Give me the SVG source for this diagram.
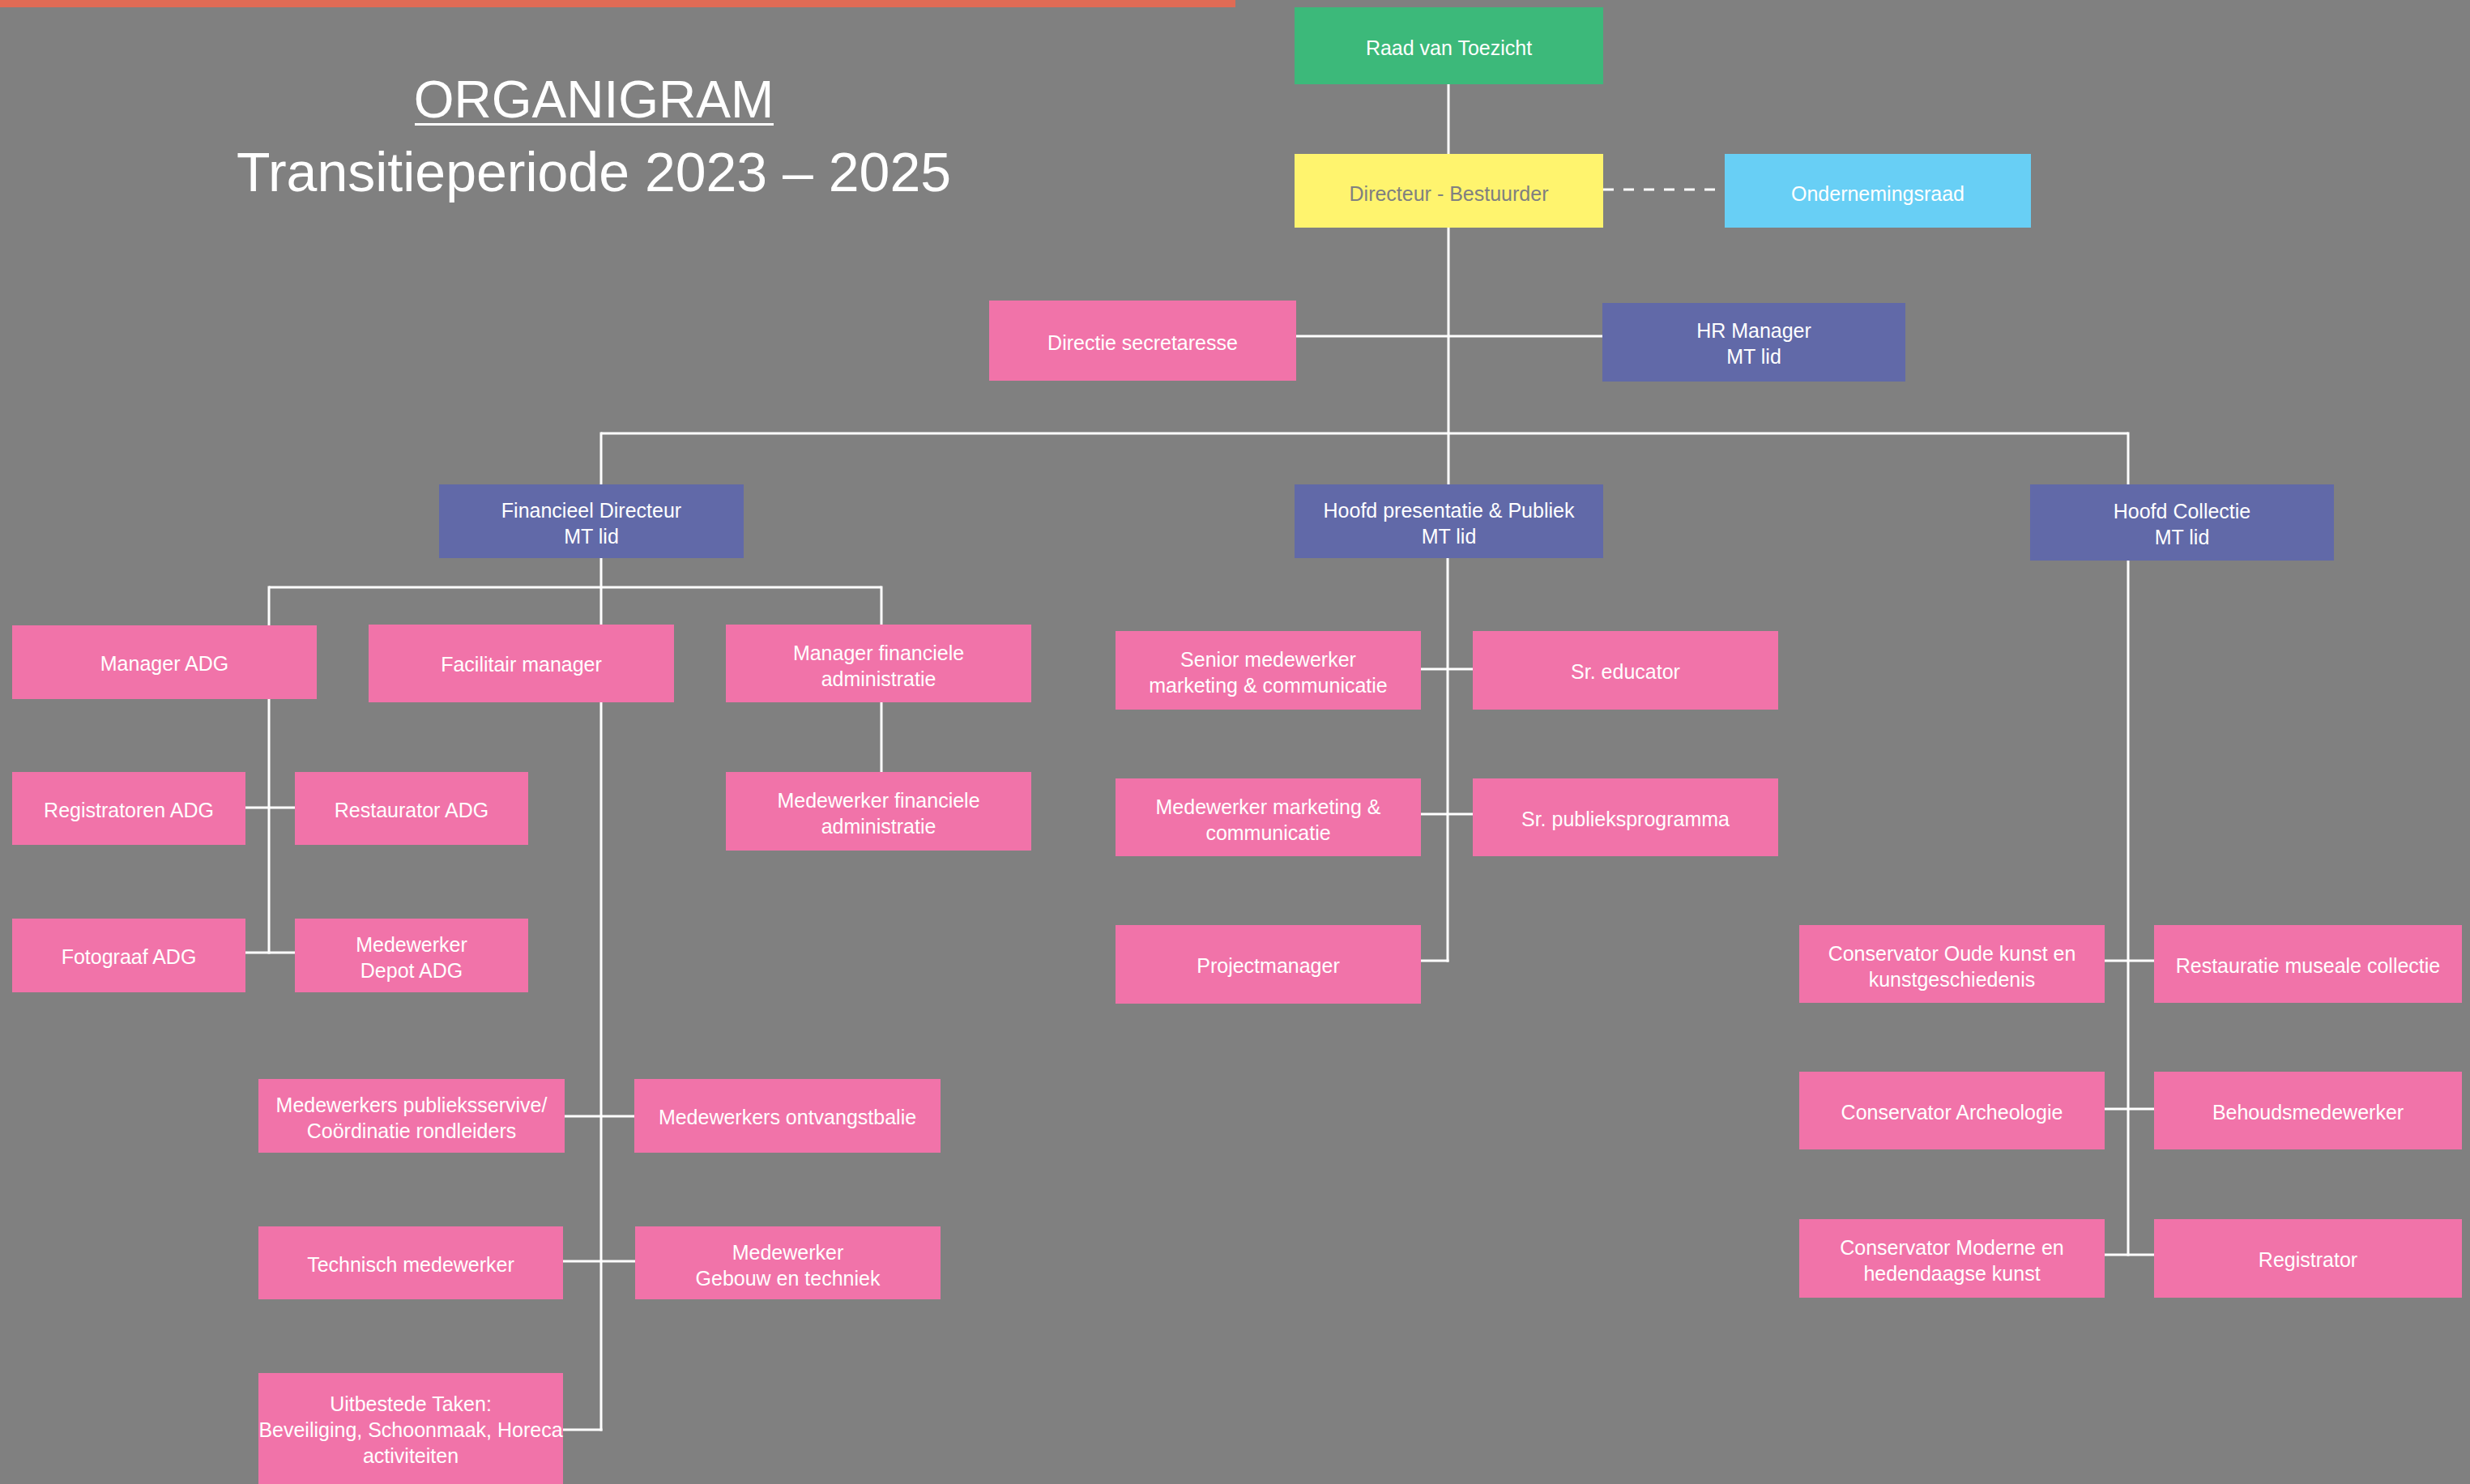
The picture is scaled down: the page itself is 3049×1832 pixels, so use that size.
<svg xmlns="http://www.w3.org/2000/svg" width="3049" height="1832" viewBox="0 0 3049 1832">
<style>
text{font-family:"Liberation Sans",Arial,sans-serif;fill:#fff;text-anchor:middle;}
.t{font-size:25px;}
.title{font-size:64px;}
.sub{font-size:68px;}
.pink{fill:#F173A9;}
.slate{fill:#6169A8;}
.green{fill:#3CB97A;}
.yellow{fill:#FFF46E;}
.blue{fill:#68CFF5;}
.dark{fill:#808080;}
#connectors line{stroke:#fff;stroke-width:3;fill:none;}
#connectors line.dash{stroke-dasharray:13 12;}
</style>
<rect x="0" y="0" width="3049" height="1832" fill="#808080"/>
<rect x="0" y="0" width="1525" height="9" fill="#E06B55"/>
<g id="title">
<text class="title" x="733" y="145">ORGANIGRAM</text>
<rect x="512" y="152" width="443" height="3" fill="#fff"/>
<text class="sub" x="733" y="236">Transitieperiode 2023 – 2025</text>
</g>
<g id="connectors">
<line x1="1788" y1="104" x2="1788" y2="190"/>
<line x1="1788" y1="281" x2="1788" y2="598"/>
<line x1="1600" y1="415" x2="1978" y2="415"/>
<line class="dash" x1="1979" y1="234" x2="2129" y2="234"/>
<line x1="742" y1="535" x2="2627" y2="535"/>
<line x1="742" y1="533.5" x2="742" y2="598"/>
<line x1="2627" y1="533.5" x2="2627" y2="598"/>
<line x1="742" y1="689" x2="742" y2="1766.5"/>
<line x1="332" y1="725" x2="1088" y2="725"/>
<line x1="332" y1="723.5" x2="332" y2="1177.5"/>
<line x1="1088" y1="723.5" x2="1088" y2="953"/>
<line x1="303" y1="997" x2="364" y2="997"/>
<line x1="303" y1="1176" x2="364" y2="1176"/>
<line x1="697" y1="1378" x2="783" y2="1378"/>
<line x1="695" y1="1557" x2="784" y2="1557"/>
<line x1="695" y1="1765" x2="743.5" y2="1765"/>
<line x1="1787" y1="689" x2="1787" y2="1187.5"/>
<line x1="1754" y1="826" x2="1818" y2="826"/>
<line x1="1754" y1="1005" x2="1818" y2="1005"/>
<line x1="1754" y1="1186" x2="1788.5" y2="1186"/>
<line x1="2627" y1="691" x2="2627" y2="1550.5"/>
<line x1="2598" y1="1186" x2="2659" y2="1186"/>
<line x1="2598" y1="1369" x2="2659" y2="1369"/>
<line x1="2598" y1="1549" x2="2659" y2="1549"/>
</g>
<g id="raad"><rect class="green" x="1598" y="9" width="381" height="95"/><text class="t" x="1788.5" y="68">Raad van Toezicht</text></g>
<g id="directeur"><rect class="yellow" x="1598" y="190" width="381" height="91"/><text class="t" x="1788.5" y="248" style="fill:#808080">Directeur - Bestuurder</text></g>
<g id="ondernemingsraad"><rect class="blue" x="2129" y="190" width="378" height="91"/><text class="t" x="2318" y="248">Ondernemingsraad</text></g>
<g id="secretaresse"><rect class="pink" x="1221" y="371" width="379" height="99"/><text class="t" x="1410.5" y="432">Directie secretaresse</text></g>
<g id="hr"><rect class="slate" x="1978" y="374" width="374" height="97"/><text class="t" x="2165" y="417">HR Manager</text><text class="t" x="2165" y="449">MT lid</text></g>
<g id="fin-directeur"><rect class="slate" x="542" y="598" width="376" height="91"/><text class="t" x="730" y="639">Financieel Directeur</text><text class="t" x="730" y="671">MT lid</text></g>
<g id="hoofd-presentatie"><rect class="slate" x="1598" y="598" width="381" height="91"/><text class="t" x="1788.5" y="639">Hoofd presentatie &amp; Publiek</text><text class="t" x="1788.5" y="671">MT lid</text></g>
<g id="hoofd-collectie"><rect class="slate" x="2506" y="598" width="375" height="94"/><text class="t" x="2693.5" y="640">Hoofd Collectie</text><text class="t" x="2693.5" y="672">MT lid</text></g>
<g id="manager-adg"><rect class="pink" x="15" y="772" width="376" height="91"/><text class="t" x="203" y="828">Manager ADG</text></g>
<g id="facilitair"><rect class="pink" x="455" y="771" width="377" height="96"/><text class="t" x="643.5" y="829">Facilitair manager</text></g>
<g id="manager-fin"><rect class="pink" x="896" y="771" width="377" height="96"/><text class="t" x="1084.5" y="815">Manager financiele</text><text class="t" x="1084.5" y="847">administratie</text></g>
<g id="medewerker-fin"><rect class="pink" x="896" y="953" width="377" height="97"/><text class="t" x="1084.5" y="997">Medewerker financiele</text><text class="t" x="1084.5" y="1029">administratie</text></g>
<g id="registratoren"><rect class="pink" x="15" y="953" width="288" height="90"/><text class="t" x="159" y="1009">Registratoren ADG</text></g>
<g id="restaurator"><rect class="pink" x="364" y="953" width="288" height="90"/><text class="t" x="508" y="1009">Restaurator ADG</text></g>
<g id="fotograaf"><rect class="pink" x="15" y="1134" width="288" height="91"/><text class="t" x="159" y="1190">Fotograaf ADG</text></g>
<g id="depot"><rect class="pink" x="364" y="1134" width="288" height="91"/><text class="t" x="508" y="1175">Medewerker</text><text class="t" x="508" y="1207">Depot ADG</text></g>
<g id="publieksservice"><rect class="pink" x="319" y="1332" width="378" height="91"/><text class="t" x="508" y="1373">Medewerkers publieksservive/</text><text class="t" x="508" y="1405">Coördinatie rondleiders</text></g>
<g id="ontvangstbalie"><rect class="pink" x="783" y="1332" width="378" height="91"/><text class="t" x="972" y="1388">Medewerkers ontvangstbalie</text></g>
<g id="technisch"><rect class="pink" x="319" y="1514" width="376" height="90"/><text class="t" x="507" y="1570">Technisch medewerker</text></g>
<g id="gebouw"><rect class="pink" x="784" y="1514" width="377" height="90"/><text class="t" x="972.5" y="1555">Medewerker</text><text class="t" x="972.5" y="1587">Gebouw en techniek</text></g>
<g id="uitbestede"><rect class="pink" x="319" y="1695" width="376" height="137"/><text class="t" x="507" y="1742">Uitbestede Taken:</text><text class="t" x="507" y="1774">Beveiliging, Schoonmaak, Horeca</text><text class="t" x="507" y="1806">activiteiten</text></g>
<g id="senior-marketing"><rect class="pink" x="1377" y="779" width="377" height="97"/><text class="t" x="1565.5" y="823">Senior medewerker</text><text class="t" x="1565.5" y="855">marketing &amp; communicatie</text></g>
<g id="educator"><rect class="pink" x="1818" y="779" width="377" height="97"/><text class="t" x="2006.5" y="838">Sr. educator</text></g>
<g id="medewerker-marketing"><rect class="pink" x="1377" y="961" width="377" height="96"/><text class="t" x="1565.5" y="1005">Medewerker marketing &amp;</text><text class="t" x="1565.5" y="1037">communicatie</text></g>
<g id="publieksprogramma"><rect class="pink" x="1818" y="961" width="377" height="96"/><text class="t" x="2006.5" y="1020">Sr. publieksprogramma</text></g>
<g id="projectmanager"><rect class="pink" x="1377" y="1142" width="377" height="97"/><text class="t" x="1565.5" y="1201">Projectmanager</text></g>
<g id="conservator-oude"><rect class="pink" x="2221" y="1142" width="377" height="96"/><text class="t" x="2409.5" y="1186">Conservator Oude kunst en</text><text class="t" x="2409.5" y="1218">kunstgeschiedenis</text></g>
<g id="restauratie"><rect class="pink" x="2659" y="1142" width="380" height="96"/><text class="t" x="2849" y="1201">Restauratie museale collectie</text></g>
<g id="conservator-archeologie"><rect class="pink" x="2221" y="1323" width="377" height="96"/><text class="t" x="2409.5" y="1382">Conservator Archeologie</text></g>
<g id="behoudsmedewerker"><rect class="pink" x="2659" y="1323" width="380" height="96"/><text class="t" x="2849" y="1382">Behoudsmedewerker</text></g>
<g id="conservator-moderne"><rect class="pink" x="2221" y="1505" width="377" height="97"/><text class="t" x="2409.5" y="1549">Conservator Moderne en</text><text class="t" x="2409.5" y="1581">hedendaagse kunst</text></g>
<g id="registrator"><rect class="pink" x="2659" y="1505" width="380" height="97"/><text class="t" x="2849" y="1564">Registrator</text></g>
</svg>
